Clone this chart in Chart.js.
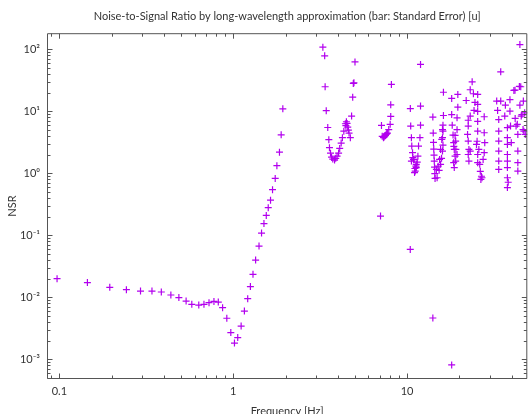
<!DOCTYPE html>
<html>
<head>
<meta charset="utf-8">
<script src="https://cdn.jsdelivr.net/npm/chart.js@4.4.1/dist/chart.umd.min.js"></script>
<style>
  html, body { margin: 0; padding: 0; background: #fff; }
</style>
</head>
<body>
<canvas id="nsrChart" width="532" height="414"></canvas>
<script>
// [frecuencia Hz, NSR]
const lowBand = [
  [0.097, 0.020], [0.145, 0.0173], [0.195, 0.0145], [0.243, 0.0133], [0.293, 0.0126],
  [0.341, 0.0126], [0.386, 0.0122], [0.438, 0.0109], [0.487, 0.0099], [0.536, 0.0087],
  [0.578, 0.0077], [0.634, 0.0075], [0.679, 0.0077], [0.726, 0.0082], [0.775, 0.0086],
  [0.821, 0.0084], [0.869, 0.0068], [0.919, 0.0046], [0.969, 0.0027], [1.017, 0.00183],
  [1.062, 0.00224], [1.111, 0.00344], [1.16, 0.0060], [1.212, 0.0095], [1.256, 0.0149],
  [1.30, 0.0235], [1.346, 0.040], [1.408, 0.0672], [1.456, 0.109], [1.503, 0.155],
  [1.55, 0.21], [1.591, 0.28], [1.64, 0.37], [1.684, 0.546], [1.745, 0.83],
  [1.784, 1.33], [1.846, 2.2], [1.888, 4.2], [1.93, 11]
];

const midBand = [
  [3.28, 109], [3.36, 79], [3.38, 25], [3.43, 10.3], [3.50, 5.5], [3.55, 3.5], [3.58, 2.6],
  [3.63, 2.12], [3.68, 1.83], [3.74, 1.70], [3.83, 1.64], [3.89, 1.75], [3.96, 1.90],
  [4.04, 2.13], [4.10, 2.53], [4.18, 3.08], [4.25, 3.77], [4.33, 4.81], [4.42, 6.33],
  [4.48, 6.82], [4.45, 5.9], [4.52, 6.4], [4.56, 5.58], [4.64, 4.47], [4.72, 3.77],
  [4.60, 5.0], [4.80, 8.4], [4.87, 17], [4.91, 28.3], [4.95, 29], [5.02, 63],
  [7.04, 0.205],
  [7.13, 5.94], [7.20, 3.96], [7.32, 3.77], [7.38, 3.85], [7.45, 4.0], [7.52, 4.1],
  [7.59, 4.26], [7.65, 4.4], [7.71, 4.47], [7.85, 5.1], [8.00, 6.2], [8.06, 8.3],
  [8.06, 12.8], [8.13, 27.3],
  [10.44, 0.0594],
  [10.45, 11.1], [10.5, 5.8], [10.6, 3.77], [10.65, 2.76], [10.76, 2.16], [10.9, 1.68],
  [10.6, 1.58], [10.96, 1.66], [11.05, 1.03], [11.15, 1.09], [11.25, 1.31], [11.3, 1.4],
  [11.3, 1.24], [11.45, 1.52], [11.55, 1.9], [11.65, 2.76], [11.87, 3.77], [11.96, 6.0],
  [11.96, 12.2], [11.96, 57.3], [11.1, 1.2], [10.8, 1.8]
];

const highBand = [
  [14.08, 0.00464],
  [14.08, 8.1], [14.15, 4.47], [14.2, 3.16], [14.25, 2.47], [14.3, 1.97], [14.35, 1.58],
  [14.4, 1.26], [14.45, 0.99], [14.5, 0.83], [14.75, 1.16], [14.9, 0.85], [15.1, 1.31],
  [15.4, 1.68], [15.6, 2.44], [15.85, 3.53], [16.0, 5.1], [16.2, 8.6], [16.2, 20.4],
  [16.1, 6.0], [16.1, 4.8], [16.0, 3.77], [16.1, 2.86], [16.0, 2.29], [15.8, 1.75],
  [15.6, 1.4], [15.3, 1.12],
  [18.07, 0.00081],
  [18.07, 16.2], [19.6, 18.8], [18.07, 8.9], [19.6, 11.7], [18.2, 6.0], [19.4, 7.9],
  [18.4, 4.15], [19.4, 5.07], [18.55, 3.13], [19.05, 3.32], [18.7, 2.44], [18.9, 1.9],
  [18.55, 1.49], [18.7, 1.24], [19.05, 1.58], [19.4, 2.02], [18.6, 2.72], [18.9, 4.1],
  [19.1, 2.44],
  [21.9, 15.0], [22.5, 7.2], [22.5, 5.8], [22.3, 4.26], [22.5, 3.32], [22.7, 2.44],
  [22.5, 2.02], [22.7, 1.58], [23.1, 2.29], [23.1, 8.4], [23.1, 22.4], [23.7, 30.1],
  [24.1, 19.3], [24.6, 14.0], [24.3, 10.4], [25.5, 18.8], [25.5, 13], [25.5, 10],
  [25.5, 6.9], [25.5, 4.8], [25.3, 3.3], [25.1, 2.94], [25.5, 2.02], [25.5, 1.49],
  [25.9, 2.44], [26.2, 1.4], [26.4, 1.08], [26.6, 0.80], [26.8, 0.90], [27.0, 0.85],
  [27.4, 1.68], [27.8, 2.16], [28.0, 3.13], [27.8, 4.53], [27.8, 8.2],
  [32.8, 14.7], [33.2, 10.4], [33.7, 7.4], [33.7, 4.8], [33.7, 3.32], [33.7, 2.29],
  [33.7, 1.58], [33.7, 1.16], [34.6, 43.5], [34.6, 14.7], [36.8, 12.6], [36.5, 8.4],
  [37.8, 5.46], [37.8, 3.77], [37.8, 2.94], [37.8, 2.02], [37.8, 1.58], [37.8, 1.24],
  [37.8, 0.85], [37.8, 0.59], [38.2, 0.72], [39.1, 15.5], [39.1, 10.1], [39.4, 5.8],
  [39.8, 3.13], [41.2, 21.8], [41.8, 22], [41.9, 7.7], [42.4, 5.8], [43.1, 6.2],
  [43.4, 4.26], [43.4, 2.29], [43.4, 1.49], [43.4, 1.09], [44.3, 25.3], [44.6, 120],
  [44.6, 12.6], [45.1, 25], [45.4, 8.4], [45.8, 8.9], [46.5, 5.1], [46.7, 14.7],
  [47.0, 4.8], [47.5, 9.5], [47.9, 4.26]
];

// Marcas de los ejes
const xTicks = [0.1, 1, 10];
const xTickLabels = ['0.1', '1', '10'];
const yTicks = [1e-3, 1e-2, 1e-1, 1, 10, 100];
const yTickLabels = ['10\u207B\u00B3', '10\u207B\u00B2', '10\u207B\u00B9', '10\u2070', '10\u00B9', '10\u00B2'];

const points = [...lowBand, ...midBand, ...highBand].map(([f, v]) => ({ x: f, y: v }));

// Marcas menores 2..9 dentro de cada década
const minorTicks = (lo, hi) => {
  const out = [];
  for (let d = lo; d <= hi; d++) {
    for (let k = 2; k <= 9; k++) out.push(k * Math.pow(10, d));
  }
  return out;
};
const xMinor = minorTicks(-2, 1);
const yMinor = minorTicks(-4, 2);

const fontFamily = "'Lato', 'Open Sans', sans-serif";

// Marco y marcas hacia dentro, como en la figura original
const frameTicks = {
  id: 'frameTicks',
  afterDraw(chart) {
    const { ctx, chartArea: a, scales: { x, y } } = chart;
    const L = a.left + 0.5, R = a.right - 0.5, T = a.top + 0.5, B = a.bottom - 0.5;
    ctx.save();
    ctx.strokeStyle = '#555';
    ctx.lineWidth = 1;
    ctx.beginPath();
    ctx.rect(L, T, R - L, B - T);
    const xMark = (v, len) => {
      if (v < x.min || v > x.max) return;
      const px = Math.round(x.getPixelForValue(v)) + 0.5;
      ctx.moveTo(px, B); ctx.lineTo(px, B - len);
      ctx.moveTo(px, T); ctx.lineTo(px, T + len);
    };
    const yMark = (v, len) => {
      if (v < y.min || v > y.max) return;
      const py = Math.round(y.getPixelForValue(v)) + 0.5;
      ctx.moveTo(L, py); ctx.lineTo(L + len, py);
      ctx.moveTo(R, py); ctx.lineTo(R - len, py);
    };
    xTicks.forEach(v => xMark(v, 5));
    xMinor.forEach(v => xMark(v, 3));
    yTicks.forEach(v => yMark(v, 5));
    yMinor.forEach(v => yMark(v, 3));
    ctx.stroke();
    ctx.restore();
  }
};

const ctx = document.getElementById('nsrChart').getContext('2d');
new Chart(ctx, {
  type: 'scatter',
  data: {
    datasets: [{
      label: 'NSR',
      data: points,
      pointStyle: 'cross',
      pointRadius: 3.5,
      pointHoverRadius: 3.5,
      borderWidth: 1.2,
      borderColor: '#b200ee',
      backgroundColor: '#b200ee'
    }]
  },
  options: {
    responsive: false,
    animation: false,
    events: [],
    layout: { padding: 0 },
    plugins: {
      legend: { display: false },
      tooltip: { enabled: false },
      title: {
        display: true,
        fullSize: false,
        text: 'Noise-to-Signal Ratio by long-wavelength approximation (bar: Standard Error) [u]',
        color: '#333',
        font: { family: fontFamily, size: 11, weight: 'normal' },
        padding: { top: 10, bottom: 10 }
      }
    },
    scales: {
      x: {
        type: 'logarithmic',
        min: 0.0849,
        max: 49.2,
        afterBuildTicks: s => { s.ticks = xTicks.map(v => ({ value: v })); },
        afterFit: s => { s.height = 35; },
        grid: { display: false, drawTicks: false },
        border: { display: false },
        ticks: {
          callback: (v, i) => xTickLabels[i],
          autoSkip: false,
          maxRotation: 0,
          padding: 6,
          color: '#333',
          font: { family: fontFamily, size: 11 }
        },
        title: {
          display: true,
          text: 'Frequency [Hz]',
          color: '#333',
          font: { family: fontFamily, size: 11 },
          padding: { top: 0, bottom: -4 }
        }
      },
      y: {
        type: 'logarithmic',
        min: 4.81e-4,
        max: 183,
        afterBuildTicks: s => { s.ticks = yTicks.map(v => ({ value: v })); },
        afterFit: s => { s.width = 47; },
        grid: { display: false, drawTicks: false },
        border: { display: false },
        ticks: {
          callback: (v, i) => yTickLabels[i],
          autoSkip: false,
          padding: 7,
          color: '#333',
          font: { family: fontFamily, size: 11 }
        },
        title: {
          display: true,
          text: 'NSR',
          color: '#333',
          font: { family: fontFamily, size: 11 },
          padding: { top: 6, bottom: 0 }
        }
      }
    }
  },
  plugins: [frameTicks]
});
</script>
</body>
</html>
